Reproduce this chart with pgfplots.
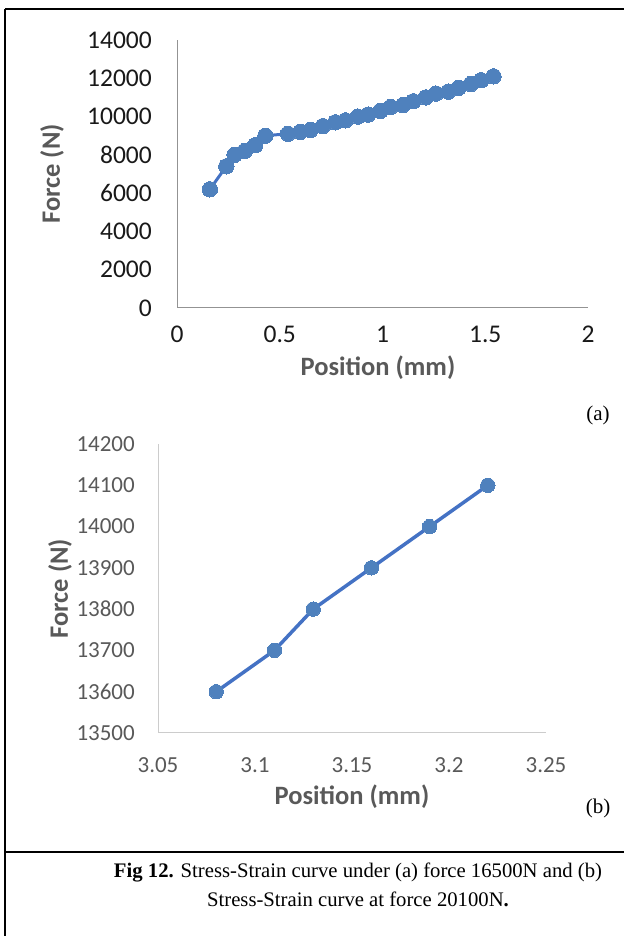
\documentclass[border=0pt]{standalone}
\usepackage{fontspec}
\setmainfont{Carlito}
\newfontfamily\timesfont{Liberation Serif}
\usepackage{pgfplots}
\pgfplotsset{compat=1.18}
\definecolor{ser}{HTML}{4472C4}
\definecolor{mk}{HTML}{4F81BD}
\definecolor{lab}{HTML}{595959}
\begin{document}
\begin{tikzpicture}
\path[use as bounding box] (0pt,0pt) rectangle (624pt,936pt);
\draw[line width=2.5pt] (5pt,927pt) -- (624pt,927pt);
\draw[line width=2.5pt] (5pt,927pt) -- (5pt,0pt);
\draw[line width=2.5pt] (5pt,84pt) -- (624pt,84pt);

\begin{axis}[
  at={(177pt,628pt)}, anchor=south west, scale only axis, width=411pt, height=268pt,
  xmin=0, xmax=2, ymin=0, ymax=14000,
  xtick={0,0.5,1,1.5,2}, ytick={0,2000,4000,6000,8000,10000,12000,14000},
  axis x line*=bottom, axis y line*=left,
  axis line style={draw=gray!85, line width=1pt},
  tick style={draw=none}, major tick length=0pt,
  scaled y ticks=false, scaled x ticks=false,
  /pgf/number format/1000 sep={}, /pgf/number format/assume math mode=true,
  tick label style={font=\fontsize{25.5}{30}\selectfont, text=black!90},
  yticklabel style={inner sep=0pt, xshift=-25pt},
  xticklabel style={inner sep=0pt, yshift=-18pt},
  xlabel={Position (mm)}, ylabel={Force (N)},
  label style={font=\bfseries\fontsize{26.5}{30}\selectfont, text=lab},
  xlabel style={at={(axis description cs:0.489,-0.224)}, anchor=center},
  ylabel style={at={(axis description cs:-0.304,0.5)}, anchor=center},
  clip=false
]
\addplot[color=ser, line width=3pt, mark=*, mark size=7.7pt, mark options={fill=mk, draw=mk, line width=0pt}] coordinates {
(0.16,6200) (0.24,7400) (0.28,8000) (0.33,8200) (0.38,8500) (0.43,9000)
(0.54,9100) (0.60,9200) (0.65,9300) (0.71,9500) (0.77,9700) (0.82,9800)
(0.88,10000) (0.93,10100) (0.99,10300) (1.04,10500) (1.10,10600) (1.15,10800)
(1.21,11000) (1.26,11200) (1.32,11300) (1.37,11500) (1.43,11700) (1.48,11900)
(1.54,12100)
};
\end{axis}

\begin{axis}[
  at={(158pt,203pt)}, anchor=south west, scale only axis, width=388pt, height=289pt,
  xmin=3.05, xmax=3.25, ymin=13500, ymax=14200,
  xtick={3.05,3.1,3.15,3.2,3.25}, ytick={13500,13600,13700,13800,13900,14000,14100,14200},
  axis x line*=bottom, axis y line*=left,
  axis line style={draw=gray!40, line width=1pt},
  tick style={draw=none}, major tick length=0pt,
  scaled y ticks=false, scaled x ticks=false,
  /pgf/number format/1000 sep={}, /pgf/number format/assume math mode=true,
  /pgf/number format/precision=2,
  tick label style={font=\fontsize{23}{27}\selectfont, text=lab},
  yticklabel style={inner sep=0pt, xshift=-23pt},
  xticklabel style={inner sep=0pt, yshift=-24pt},
  xlabel={Position (mm)}, ylabel={Force (N)},
  label style={font=\bfseries\fontsize{26.5}{30}\selectfont, text=lab},
  xlabel style={at={(axis description cs:0.5,-0.2215)}, anchor=center},
  ylabel style={at={(axis description cs:-0.2526,0.5)}, anchor=center},
  clip=false
]
\addplot[color=ser, line width=3.5pt, mark=*, mark size=7.2pt, mark options={fill=mk, draw=mk, line width=0pt}] coordinates {
(3.08,13600) (3.11,13700) (3.13,13800) (3.16,13900) (3.19,14000) (3.22,14100)
};
\end{axis}

\node[font=\timesfont\fontsize{21}{25}\selectfont] at (598pt,521pt) {(a)};
\node[font=\timesfont\fontsize{21}{25}\selectfont] at (598pt,128pt) {(b)};
\node[font=\timesfont\fontsize{20.7}{25}\selectfont] at (358pt,64pt) {\textbf{Fig 12.} Stress-Strain curve under (a) force 16500N and (b)};
\node[font=\timesfont\fontsize{20.7}{25}\selectfont] at (358pt,37pt) {Stress-Strain curve at force 20100N\textbf{.}};
\end{tikzpicture}
\end{document}
